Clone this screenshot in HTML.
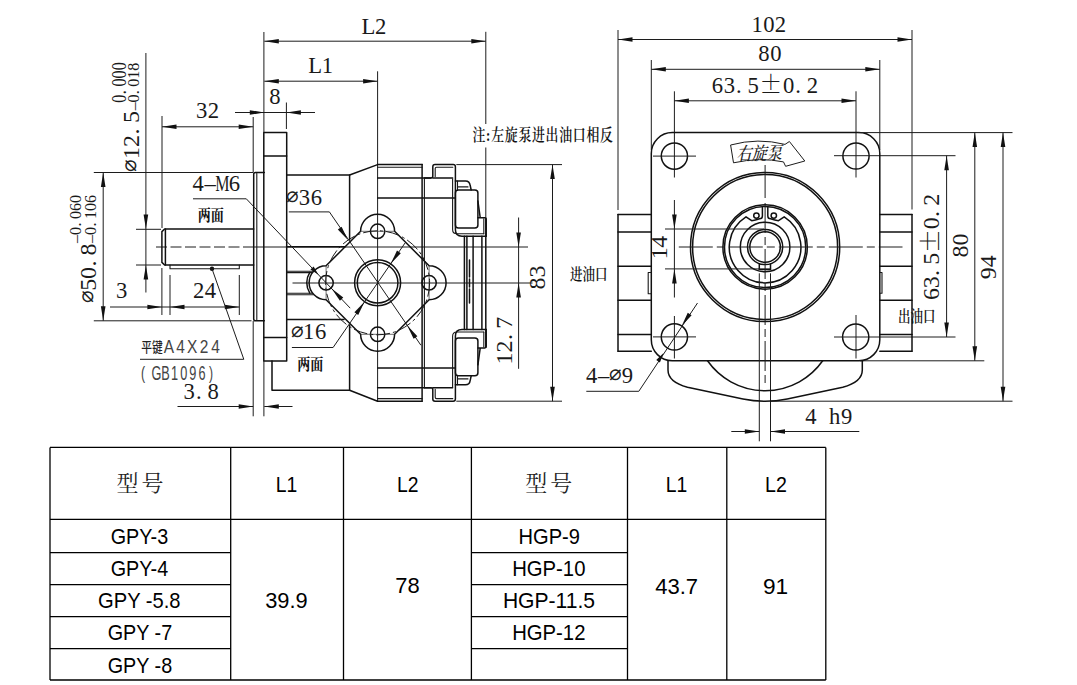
<!DOCTYPE html>
<html lang="zh-CN">
<head>
<meta charset="utf-8">
<title>GPY / HGP 齿轮泵外形尺寸</title>
<style>
html,body{margin:0;padding:0;background:#fff;}
body{width:1077px;height:685px;overflow:hidden;position:relative;}
svg{position:absolute;left:0;top:0;display:block;}
.o{fill:none;stroke:#111;stroke-width:1.5;stroke-linecap:round;stroke-linejoin:round;}
.o2{fill:none;stroke:#181818;stroke-width:1.1;stroke-linecap:round;stroke-linejoin:round;}
.t{fill:none;stroke:#1c1c1c;stroke-width:1;}
.t2{fill:none;stroke:#333;stroke-width:0.7;}
.a{fill:#111;stroke:none;}
.tb{stroke:#000;stroke-width:1.3;fill:none;}
text{fill:#1a1a1a;}
.d{font-family:"Liberation Serif","Noto Serif CJK SC",serif;}
.dd{font-family:"DejaVu Sans","Liberation Serif",sans-serif;fill:#222;font-weight:200;}
.s{font-family:"Liberation Sans","Noto Sans CJK SC",sans-serif;fill:#444;}
.c{font-family:"Liberation Serif","Noto Serif CJK SC",serif;font-weight:700;fill:#111;}
.c2{font-family:"Liberation Sans","Noto Sans CJK SC",sans-serif;font-weight:500;fill:#222;}
.c3{font-family:"Liberation Serif","Noto Serif CJK SC",serif;font-weight:600;fill:#111;}
.pm{font-family:"Noto Serif CJK SC",serif;}
.c4{font-family:"Liberation Serif","Noto Serif CJK SC",serif;font-weight:500;}
.tt{font-family:"Liberation Sans","Noto Sans CJK SC",sans-serif;font-size:21.6px;fill:#000;}
.th{font-family:"Liberation Serif","Noto Serif CJK SC",serif;font-size:22px;letter-spacing:3px;fill:#222;font-weight:400;}
</style>
</head>
<body>
<svg width="1077" height="685" viewBox="0 0 1077 685">
<g id="side">
<line class="t" x1="145.9" y1="53" x2="145.9" y2="292.5"/>
<polygon class="a" points="145.9,229 143.6,214.5 148.2,214.5"/>
<polygon class="a" points="145.9,265 148.2,279.5 143.6,279.5"/>
<line class="t" x1="136" y1="229.3" x2="161" y2="229.3"/>
<line class="t" x1="136" y1="265" x2="161" y2="265"/>
<line class="t" x1="162" y1="116" x2="162" y2="228"/>
<line class="t" x1="161.9" y1="268" x2="161.9" y2="315"/>
<line class="t" x1="170" y1="275" x2="170" y2="315"/>
<line class="t" x1="239.3" y1="275" x2="239.3" y2="315"/>
<line class="t" x1="253.2" y1="117" x2="253.2" y2="172"/>
<line class="t" x1="253.2" y1="321" x2="253.2" y2="416.3"/>
<line class="t" x1="263.9" y1="32" x2="263.9" y2="132.5"/>
<line class="t" x1="263.9" y1="361" x2="263.9" y2="416.3"/>
<line class="t" x1="286.4" y1="102.5" x2="286.4" y2="129"/>
<line class="t" x1="264.3" y1="41.2" x2="485.8" y2="41.2"/>
<polygon class="a" points="264.3,41.2 278.8,38.9 278.8,43.5"/>
<polygon class="a" points="485.8,41.2 471.3,43.5 471.3,38.9"/>
<line class="t" x1="264.3" y1="81.2" x2="377.6" y2="81.2"/>
<polygon class="a" points="264.3,81.2 278.8,78.9 278.8,83.5"/>
<polygon class="a" points="377.6,81.2 363.1,83.5 363.1,78.9"/>
<line class="t" x1="235" y1="112.5" x2="315" y2="112.5"/>
<polygon class="a" points="264.3,112.5 249.8,114.8 249.8,110.2"/>
<polygon class="a" points="286.4,112.5 300.9,110.2 300.9,114.8"/>
<line class="t" x1="162" y1="126.8" x2="253.2" y2="126.8"/>
<polygon class="a" points="162,126.8 176.5,124.5 176.5,129.1"/>
<polygon class="a" points="253.2,126.8 238.7,129.1 238.7,124.5"/>
<line class="t" x1="377.6" y1="71.3" x2="377.6" y2="401.2"/>
<line class="t" x1="485.8" y1="31.8" x2="485.8" y2="124"/>
<line class="t" x1="485.8" y1="147.5" x2="485.8" y2="218.5"/>
<line class="t" x1="552.5" y1="164.6" x2="552.5" y2="401.2"/>
<polygon class="a" points="552.5,164.6 554.8,179.1 550.2,179.1"/>
<polygon class="a" points="552.5,401.2 550.2,386.7 554.8,386.7"/>
<line class="t" x1="456.3" y1="164.6" x2="562" y2="164.6"/>
<line class="t" x1="456.3" y1="401.2" x2="562" y2="401.2"/>
<line class="t" x1="518.6" y1="217.5" x2="518.6" y2="368.8"/>
<polygon class="a" points="518.6,247 516.3,232.5 520.9,232.5"/>
<polygon class="a" points="518.6,283 520.9,297.5 516.3,297.5"/>
<line class="t" x1="156" y1="247" x2="254" y2="247" stroke-dasharray="11 3.5"/>
<line class="t" x1="254" y1="247" x2="528" y2="247"/>
<line class="t" x1="292.5" y1="283" x2="532.5" y2="283"/>
<line class="t" x1="103.2" y1="172.5" x2="103.2" y2="320.8"/>
<polygon class="a" points="103.2,172.5 105.5,187 100.9,187"/>
<polygon class="a" points="103.2,320.8 100.9,306.3 105.5,306.3"/>
<line class="t" x1="93.8" y1="172.5" x2="253.5" y2="172.5"/>
<line class="t" x1="93.8" y1="320.8" x2="251.5" y2="320.8"/>
<line class="t" x1="110" y1="307" x2="239.3" y2="307"/>
<polygon class="a" points="161.9,307 147.4,309.3 147.4,304.7"/>
<polygon class="a" points="170,307 184.5,304.7 184.5,309.3"/>
<polygon class="a" points="239.3,307 224.8,309.3 224.8,304.7"/>
<line class="t" x1="177.5" y1="406.5" x2="253.2" y2="406.5"/>
<polygon class="a" points="253.2,406.5 238.7,408.8 238.7,404.2"/>
<line class="t" x1="264.3" y1="406.5" x2="292.5" y2="406.5"/>
<polygon class="a" points="264.3,406.5 278.8,404.2 278.8,408.8"/>
<circle class="a" cx="212" cy="268.8" r="2.2"/>
<line class="t" x1="212" y1="268.8" x2="243.8" y2="359.3"/>
<line class="t" x1="140" y1="359.3" x2="243.8" y2="359.3"/>
</g>
<g id="sideobj">
<path class="o" d="M253.7 229 H164.6 L161.9 231.6 V262.4 L164.6 265 H253.7"/>
<line class="o" x1="165.4" y1="229" x2="165.4" y2="265"/>
<path class="o2" d="M170 265 V268.8 H239.3 V265"/>
<path class="o" d="M264.3 172.5 H255.5 Q253.7 172.5 253.7 174.3 V319 Q253.7 320.8 255.5 320.8 H264.3"/>
<line class="o2" x1="256.8" y1="173.5" x2="256.8" y2="319.8"/>
<path class="o" d="M263.8 132.5 H286.7 V360.9 H263.8 Z"/>
<line class="o" x1="263.8" y1="156" x2="286.7" y2="156"/>
<line class="o" x1="263.8" y1="337.5" x2="286.7" y2="337.5"/>
<path class="o" d="M287 175 H349.6 L377.6 164.6"/>
<path class="o" d="M272 360.9 V390.2 H349.6 L377.6 401.2"/>
<line class="o" x1="349.6" y1="175" x2="349.6" y2="240"/>
<line class="o" x1="349.6" y1="325" x2="349.6" y2="390.2"/>
<line class="o" x1="287" y1="246.8" x2="345" y2="246.8"/>
<line class="o" x1="287" y1="319.4" x2="344" y2="319.4"/>
<line class="o2" x1="287" y1="271.2" x2="313" y2="271.2"/>
<line class="o2" x1="287" y1="272.6" x2="312" y2="272.6"/>
<line class="o2" x1="287" y1="293.2" x2="312" y2="293.2"/>
<line class="o2" x1="287" y1="294.8" x2="313" y2="294.8"/>
</g>
<g id="rear">
<g>
<line class="o" x1="377.6" y1="164.6" x2="422.1" y2="164.6"/>
<line class="o2" x1="377.6" y1="167.2" x2="422.1" y2="167.2"/>
<line class="o" x1="377.6" y1="178" x2="431" y2="178"/>
<line class="o" x1="377.6" y1="197.9" x2="454.5" y2="197.9"/>
<path class="o" d="M424.4 178 H430.8 Q432.8 178 432.8 176 V166.8 Q432.8 164.6 435 164.6 H453.2 Q455.4 164.6 455.4 166.8 V229.5 Q455.4 236.2 462 236.2 H486.2"/>
<line class="o" x1="432.8" y1="178" x2="452.6" y2="178"/>
<path class="o2" d="M435.2 176.5 V168.5 Q435.2 167.2 436.5 167.2 H452.8"/>
<path class="o2" d="M452.6 178.8 V229.5 Q452.6 233.8 457 233.8 H483.8"/>
<path class="o" d="M455.4 181 H465.5 Q469.6 181 470.2 185.5 L471.2 190"/>
<path class="o2" d="M457.5 181 V189.5 M457.5 186.9 H468"/>
<rect class="o" x="455.4" y="190" width="22.5" height="37.9" rx="3" ry="3"/>
<path class="o" d="M477.9 201 L480.2 217.6 M477.9 217.8 H484.8 Q486.2 217.8 486.2 219.2 V236.2"/>
<path class="o2" d="M483.8 218.8 V233.8"/>
</g>
<g transform="matrix(1 0 0 -1 0 565.8)">
<line class="o" x1="377.6" y1="164.6" x2="422.1" y2="164.6"/>
<line class="o2" x1="377.6" y1="167.2" x2="422.1" y2="167.2"/>
<line class="o" x1="377.6" y1="178" x2="431" y2="178"/>
<line class="o" x1="377.6" y1="197.9" x2="454.5" y2="197.9"/>
<path class="o" d="M424.4 178 H430.8 Q432.8 178 432.8 176 V166.8 Q432.8 164.6 435 164.6 H453.2 Q455.4 164.6 455.4 166.8 V229.5 Q455.4 236.2 462 236.2 H486.2"/>
<line class="o" x1="432.8" y1="178" x2="452.6" y2="178"/>
<path class="o2" d="M435.2 176.5 V168.5 Q435.2 167.2 436.5 167.2 H452.8"/>
<path class="o2" d="M452.6 178.8 V229.5 Q452.6 233.8 457 233.8 H483.8"/>
<path class="o" d="M455.4 181 H465.5 Q469.6 181 470.2 185.5 L471.2 190"/>
<path class="o2" d="M457.5 181 V189.5 M457.5 186.9 H468"/>
<rect class="o" x="455.4" y="190" width="22.5" height="37.9" rx="3" ry="3"/>
<path class="o" d="M477.9 201 L480.2 217.6 M477.9 217.8 H484.8 Q486.2 217.8 486.2 219.2 V236.2"/>
<path class="o2" d="M483.8 218.8 V233.8"/>
</g>
<line class="o" x1="422.1" y1="164.6" x2="422.1" y2="401.2"/>
<line class="o2" x1="424.4" y1="178" x2="424.4" y2="387.8"/>
<line class="o" x1="464.4" y1="236.2" x2="464.4" y2="329.6" stroke-width="1.25"/>
<line class="o" x1="466.9" y1="236.2" x2="466.9" y2="329.6" stroke-width="1.25"/>
<line class="o" x1="473.1" y1="236.2" x2="473.1" y2="329.6" stroke-width="1.25"/>
<line class="o" x1="481.9" y1="236.2" x2="481.9" y2="329.6" stroke-width="1.25"/>
<line class="o" x1="485.8" y1="218.5" x2="485.8" y2="347.3"/>
<line class="o" x1="469.5" y1="260" x2="469.5" y2="303" stroke-width="1.8" stroke-dasharray="17 2 8 2 14 2"/>
</g>
<g id="port">
<path class="o" d="M360.6 231.3 A17.0 17.0 0 0 1 394.6 231.3 L429.1 265.8 A17.0 17.0 0 0 1 429.1 299.8 L394.6 334.3 A17.0 17.0 0 0 1 360.6 334.3 L326.1 299.8 A17.0 17.0 0 0 1 326.1 265.8 Z"/>
<circle class="o" cx="377.6" cy="231.3" r="7.2"/>
<line class="t2" x1="360.6" y1="231.3" x2="394.6" y2="231.3"/>
<circle class="o" cx="429.1" cy="282.8" r="7.2"/>
<line class="t2" x1="429.1" y1="265.8" x2="429.1" y2="299.8"/>
<circle class="o" cx="377.6" cy="334.3" r="7.2"/>
<line class="t2" x1="394.6" y1="334.3" x2="360.6" y2="334.3"/>
<circle class="o" cx="326.1" cy="282.8" r="7.2"/>
<line class="t2" x1="326.1" y1="299.8" x2="326.1" y2="265.8"/>
<path class="o" d="M309.8 272.4 A19.3 19.3 0 0 0 309.8 293.2"/>
<circle class="t" cx="377.6" cy="282.8" r="52" stroke-dasharray="14 3 3 3"/>
<circle class="o" cx="377.6" cy="282.8" r="23"/>
<circle class="o" cx="377.6" cy="282.8" r="20.3"/>
<line class="t" x1="288.8" y1="211.9" x2="329.4" y2="211.9"/>
<line class="t" x1="329.4" y1="211.9" x2="420.91" y2="345.25"/>
<polygon class="a" points="347.96,240.07 337.81,229.47 341.59,226.85"/>
<polygon class="a" points="407.24,325.53 417.39,336.13 413.61,338.75"/>
<line class="t" x1="291.9" y1="347.5" x2="333.1" y2="347.5"/>
<line class="t" x1="333.1" y1="347.5" x2="405.13" y2="242.87"/>
<polygon class="a" points="364.54,301.73 358.21,314.98 354.42,312.37"/>
<polygon class="a" points="390.66,263.87 396.99,250.62 400.78,253.23"/>
<line class="t" x1="193" y1="198.8" x2="246.3" y2="198.8"/>
<line class="t" x1="246.3" y1="198.8" x2="350.21" y2="308.17"/>
<polygon class="a" points="318.52,274.83 310.39,269.45 313.58,266.42"/>
<polygon class="a" points="331.61,288.6 343.26,297.53 339.93,300.7"/>
</g>
<g id="front">
<line class="t" x1="618" y1="30" x2="618" y2="210"/>
<line class="t" x1="912" y1="30" x2="912" y2="209.5"/>
<line class="t" x1="618" y1="39.5" x2="912" y2="39.5"/>
<polygon class="a" points="618,39.5 632.5,37.2 632.5,41.8"/>
<polygon class="a" points="912,39.5 897.5,41.8 897.5,37.2"/>
<line class="t" x1="651.3" y1="60" x2="651.3" y2="150"/>
<line class="t" x1="879.8" y1="60" x2="879.8" y2="150"/>
<line class="t" x1="651.3" y1="69.3" x2="879.8" y2="69.3"/>
<polygon class="a" points="651.3,69.3 665.8,67 665.8,71.6"/>
<polygon class="a" points="879.8,69.3 865.3,71.6 865.3,67"/>
<line class="t" x1="674.4" y1="91.3" x2="674.4" y2="177.5"/>
<line class="t" x1="856" y1="91.3" x2="856" y2="177.5"/>
<line class="t" x1="674.4" y1="100.8" x2="856" y2="100.8"/>
<polygon class="a" points="674.4,100.8 688.9,98.5 688.9,103.1"/>
<polygon class="a" points="856,100.8 841.5,103.1 841.5,98.5"/>
<line class="t" x1="674.4" y1="200" x2="674.4" y2="297.5"/>
<line class="t" x1="674.4" y1="316" x2="674.4" y2="358.5"/>
<polygon class="a" points="674.4,229 672.1,214.5 676.7,214.5"/>
<polygon class="a" points="674.4,268.9 676.7,283.4 672.1,283.4"/>
<line class="t" x1="856" y1="315" x2="856" y2="358.5"/>
<circle class="o" cx="674.4" cy="156.1" r="13.1"/>
<circle class="o" cx="856" cy="156" r="13.1"/>
<circle class="o" cx="674.4" cy="336.9" r="13.1"/>
<circle class="o" cx="855.7" cy="337" r="13.1"/>
<line class="t" x1="653" y1="156.1" x2="696" y2="156.1"/>
<line class="t" x1="834" y1="155.7" x2="955.5" y2="155.7"/>
<line class="t" x1="653" y1="336.9" x2="696" y2="336.9"/>
<line class="t" x1="834" y1="337" x2="955.5" y2="337"/>
<rect class="o" x="651.3" y="132.6" width="228.5" height="228.2" rx="21" ry="21"/>
<line class="t" x1="858" y1="132.6" x2="1012.5" y2="132.6"/>
<line class="t" x1="860" y1="360.8" x2="984.3" y2="360.8"/>
<line class="t" x1="770.5" y1="401.2" x2="1012.5" y2="401.2"/>
<line class="t" x1="946.6" y1="155.7" x2="946.6" y2="337"/>
<polygon class="a" points="946.6,155.7 948.9,170.2 944.3,170.2"/>
<polygon class="a" points="946.6,337 944.3,322.5 948.9,322.5"/>
<line class="t" x1="974.8" y1="132.6" x2="974.8" y2="360.8"/>
<polygon class="a" points="974.8,132.6 977.1,147.1 972.5,147.1"/>
<polygon class="a" points="974.8,360.8 972.5,346.3 977.1,346.3"/>
<line class="t" x1="1003" y1="132.6" x2="1003" y2="401.2"/>
<polygon class="a" points="1003,132.6 1005.3,147.1 1000.7,147.1"/>
<polygon class="a" points="1003,401.2 1000.7,386.7 1005.3,386.7"/>
<path class="o" d="M618 214.5 H651.3 M618 232 H651.3 M618 266.3 H651.3 M618 300.3 H651.3 M618 334.5 H651.3 M618 351.3 H651.3"/>
<path class="o" d="M879.8 214.5 H912 M879.8 232 H912 M879.8 266.3 H912 M879.8 300.3 H912 M879.8 334.5 H912 M879.8 351.3 H912"/>
<line class="o" x1="618" y1="214.5" x2="618" y2="351.3"/>
<line class="o" x1="912" y1="214.5" x2="912" y2="351.3"/>
<path class="o2" d="M651.3 272.5 H648.2 V293.7 H651.3"/>
<path class="o2" d="M879.8 272.5 H882 V293.2 H879.8"/>
<circle class="o" cx="765.1" cy="247" r="74.6" stroke-width="1.6"/>
<circle class="o" cx="765.1" cy="247" r="72.5" stroke-width="1.1"/>
<circle class="o" cx="765.1" cy="247" r="42.2" stroke-width="2.2"/>
<circle class="o" cx="765.1" cy="247" r="40.6" stroke-width="1.3"/>
<circle class="o" cx="765.1" cy="247" r="24.8"/>
<circle class="o" cx="765.1" cy="247" r="17.6"/>
<circle class="o" cx="765.1" cy="247" r="15.3"/>
<path class="o" d="M762.4 207.5 V216 Q762.4 218.8 759.6 218.8 Q755.1 220.5 751.7 220.7 L746 216.8 A35.8 35.8 0 1 0 784.2 216.8 L778.5 220.7 Q775.1 220.5 770.6 218.8 Q767.8 218.8 767.8 216 V207.5"/>
<circle class="o" cx="756.4" cy="215.6" r="2.7"/>
<circle class="o" cx="773.8" cy="215.6" r="2.7"/>
<path class="o" d="M759.3 264 V269.4 H770.5 V264"/>
<line class="o" x1="759.3" y1="269.3" x2="770.5" y2="269.3" stroke-width="2"/>
<line class="t" x1="665" y1="229" x2="764" y2="229"/>
<line class="t" x1="665" y1="268.9" x2="760" y2="268.9"/>
<line class="t" x1="678.8" y1="247" x2="902.5" y2="247" stroke-dasharray="34 4 8 4"/>
<line class="t" x1="765.1" y1="165" x2="765.1" y2="198"/>
<line class="t" x1="765.1" y1="203" x2="765.1" y2="385" stroke-dasharray="30 4 8 4"/>
<line class="t" x1="759.3" y1="273.3" x2="759.3" y2="441.3"/>
<line class="t" x1="770.5" y1="273.3" x2="770.5" y2="441.3"/>
<line class="t" x1="731.3" y1="431.5" x2="759.3" y2="431.5"/>
<polygon class="a" points="759.3,431.5 744.8,433.8 744.8,429.2"/>
<line class="t" x1="770.5" y1="431.5" x2="859.3" y2="431.5"/>
<polygon class="a" points="770.5,431.5 785,429.2 785,433.8"/>
<path class="o" d="M707.5 360.8 A70.4 70.4 0 0 0 822.7 360.8"/>
<path class="o" d="M668 360.8 V370 Q668 382 687.5 387.3 L743 399 Q765.1 403.5 787.2 399 L842.7 387.3 Q862.3 382 862.3 370 V360.8"/>
<line class="t" x1="586.3" y1="391.3" x2="638.8" y2="391.3"/>
<line class="t" x1="638.8" y1="391.3" x2="697.5" y2="303"/>
<polygon class="a" points="663.6,352.9 659.9,362.45 656.23,360.01"/>
<polygon class="a" points="681.65,325.99 687.76,312.64 691.6,315.19"/>
</g>
<g id="txt">
<text class="d" transform="translate(362.3,33.8) scale(0.96,1.0)" font-size="23.6" text-anchor="middle" x="6.35 19.06" y="0">L2</text>
<text class="d" transform="translate(309.2,73.3) scale(0.96,1.0)" font-size="23.6" text-anchor="middle" x="6.35 19.06" y="0">L1</text>
<text class="d" transform="translate(269,104) scale(0.96,1.0)" font-size="23.6" text-anchor="middle" x="6.25" y="0">8</text>
<text class="d" transform="translate(195.8,118) scale(0.96,1.0)" font-size="23.6" text-anchor="middle" x="6.15 18.44" y="0">32</text>
<text class="d" transform="translate(192,191.3) scale(0.96,1.0)" font-size="23.6" text-anchor="middle" x="6.3 18.91" y="0">4–</text>
<text class="d" transform="translate(216.2,191.3) scale(0.68,1.0)" font-size="23.6" text-anchor="middle" x="8.9" y="0">M</text>
<text class="d" transform="translate(228.3,191.3) scale(0.96,1.0)" font-size="23.6" text-anchor="middle" x="6.3" y="0">6</text>
<text class="dd" transform="translate(292.7,202.3)" font-size="21" text-anchor="middle" x="0" y="0">⌀</text>
<text class="d" transform="translate(298.3,204.7) scale(0.96,1.0)" font-size="23.6" text-anchor="middle" x="6.3 18.91" y="0">36</text>
<text class="dd" transform="translate(297,337)" font-size="21" text-anchor="middle" x="0" y="0">⌀</text>
<text class="d" transform="translate(302.6,339.4) scale(0.96,1.0)" font-size="23.6" text-anchor="middle" x="6.3 18.91" y="0">16</text>
<text class="d" transform="translate(115.75,297.5) scale(0.96,1.0)" font-size="23.6" text-anchor="middle" x="6.25" y="0">3</text>
<text class="d" transform="translate(192.8,297.5) scale(0.96,1.0)" font-size="23.6" text-anchor="middle" x="6.15 18.44" y="0">24</text>
<text class="d" transform="translate(183,398.8) scale(0.96,1.0)" font-size="23.6" text-anchor="middle" x="6.3 16.39 31.51" y="0">3.8</text>
<text class="d" transform="translate(751.5,32) scale(0.96,1.0)" font-size="23.6" text-anchor="middle" x="6.04 18.12 30.21" y="0">102</text>
<text class="d" transform="translate(758,61.3) scale(0.96,1.0)" font-size="23.6" text-anchor="middle" x="6.25 18.75" y="0">80</text>
<text class="d" transform="translate(711.6,93) scale(0.96,1.0)" font-size="23.6" text-anchor="middle" x="6.17 18.52 28.39 43.2 61.72 80.23 90.11 104.92" y="0">63.5<tspan class="pm">±</tspan>0.2</text>
<text class="d" transform="translate(805,423.8) scale(0.96,1.0)" font-size="23.6" text-anchor="middle" x="6.2 18.59 30.99 43.39" y="0">4 h9</text>
<text class="d" transform="translate(585.8,382.5) scale(0.96,1.0)" font-size="23.6" text-anchor="middle" x="6.2 18.59" y="0">4–</text>
<text class="dd" transform="translate(615.5,380.3)" font-size="21" text-anchor="middle" x="0" y="0">⌀</text>
<text class="d" transform="translate(621.5,382.5) scale(0.96,1.0)" font-size="23.6" text-anchor="middle" x="6.2" y="0">9</text>
<text class="dd" transform="translate(135.8,165) rotate(-90)" font-size="21" text-anchor="middle" x="0" y="0">⌀</text>
<text class="d" transform="translate(139,159) rotate(-90)" font-size="24" text-anchor="middle" x="6 18 27.6 42" y="0">12.5</text>
<text class="d" transform="translate(139,110.3) rotate(-90)" font-size="16" text-anchor="middle" x="3.95 11.85 18.17 27.65 35.55 43.45" y="0">–0.018</text>
<text class="d" transform="translate(125.6,102.8) rotate(-90) scale(1.0,1.27)" font-size="16" text-anchor="middle" x="4.05 10.53 20.25 28.35 36.45" y="0">0.000</text>
<text class="dd" transform="translate(93,296.5) rotate(-90)" font-size="21" text-anchor="middle" x="0" y="0">⌀</text>
<text class="d" transform="translate(96.2,290.7) rotate(-90)" font-size="24" text-anchor="middle" x="5.9 17.7 27.14 41.3" y="0">50.8</text>
<text class="d" transform="translate(96.2,243) rotate(-90)" font-size="16" text-anchor="middle" x="4 12 18.4 28 36 44" y="0">–0.106</text>
<text class="d" transform="translate(80.6,243) rotate(-90) scale(1.0,1.1)" font-size="16" text-anchor="middle" x="4 12 18.4 28 36 44" y="0">–0.060</text>
<text class="d" transform="translate(511.9,364.4) rotate(-90)" font-size="24" text-anchor="middle" x="5.95 17.85 27.37 41.65" y="0">12.7</text>
<text class="d" transform="translate(545.2,289.7) rotate(-90)" font-size="24" text-anchor="middle" x="6.1 18.3" y="0">83</text>
<text class="d" transform="translate(667,259) rotate(-90)" font-size="24" text-anchor="middle" x="5.75 17.25" y="0">14</text>
<text class="d" transform="translate(939.2,300) rotate(-90)" font-size="24" text-anchor="middle" x="5.9 17.7 27.14 41.3 59 76.7 86.14 100.3" y="0">63.5<tspan class="pm">±</tspan>0.2</text>
<text class="d" transform="translate(967.5,257.6) rotate(-90)" font-size="24" text-anchor="middle" x="6 18" y="0">80</text>
<text class="d" transform="translate(995.5,279.3) rotate(-90)" font-size="24" text-anchor="middle" x="6 18" y="0">94</text>
<text class="c" transform="translate(210.8,220.8) scale(0.95,1.12)" font-size="13.8" text-anchor="middle">两面</text>
<text class="c" transform="translate(310.3,369.8) scale(0.95,1.12)" font-size="13.8" text-anchor="middle">两面</text>
<text class="c2" transform="translate(141.2,351.8) scale(0.78,1)" font-size="13.8">平键</text>
<text class="s" transform="translate(163,353) scale(0.86,1.0)" font-size="18" text-anchor="middle" x="6.8 20.41 34.01 47.62 61.22" y="0">A4X24</text>
<text class="s" transform="translate(138.6,378.5) scale(0.7,1.0)" font-size="17.5" text-anchor="middle" x="6.5" y="0">(</text>
<text class="s" transform="translate(151.9,380) scale(0.62,1.0)" font-size="20.5" text-anchor="middle" x="7.34 22.02 36.69 51.37 66.05 80.73" y="0">GB1096</text>
<text class="s" transform="translate(206.6,378.5) scale(0.7,1.0)" font-size="17.5" text-anchor="middle" x="6.5" y="0">)</text>
<text class="c3" transform="translate(472.5,141.3) scale(0.76,1)" font-size="17" textLength="184.9" lengthAdjust="spacing">注:左旋泵进出油口相反</text>
<text class="c3" transform="translate(570,280) scale(0.78,1)" font-size="16">进油口</text>
<text class="c3" transform="translate(898,322.3) scale(0.78,1)" font-size="16">出油口</text>
<path class="t" d="M730.6 145 Q758 137.5 785 144.4 L789.4 141.5 L804.8 161 L785.6 166.3 L783.5 161.9 Q760 157 733.5 162.8 Z"/>
<text class="c4" transform="translate(736.5,160.3) rotate(-1.5) skewX(-14) scale(0.9,1.08)" font-size="16.8">右旋泵</text>
</g>
<g id="table">
<line class="tb" x1="50" y1="447.4" x2="50" y2="680"/>
<line class="tb" x1="230.7" y1="447.4" x2="230.7" y2="680"/>
<line class="tb" x1="343.5" y1="447.4" x2="343.5" y2="680"/>
<line class="tb" x1="471.4" y1="447.4" x2="471.4" y2="680"/>
<line class="tb" x1="627.5" y1="447.4" x2="627.5" y2="680"/>
<line class="tb" x1="726.8" y1="447.4" x2="726.8" y2="680"/>
<line class="tb" x1="825.8" y1="447.4" x2="825.8" y2="680"/>
<line class="tb" x1="50" y1="447.4" x2="825.8" y2="447.4"/>
<line class="tb" x1="50" y1="519.3" x2="825.8" y2="519.3"/>
<line class="tb" x1="50" y1="680" x2="825.8" y2="680"/>
<line class="tb" x1="50" y1="552.7" x2="230.7" y2="552.7"/>
<line class="tb" x1="471.4" y1="552.7" x2="627.5" y2="552.7"/>
<line class="tb" x1="50" y1="584.7" x2="230.7" y2="584.7"/>
<line class="tb" x1="471.4" y1="584.7" x2="627.5" y2="584.7"/>
<line class="tb" x1="50" y1="616.6" x2="230.7" y2="616.6"/>
<line class="tb" x1="471.4" y1="616.6" x2="627.5" y2="616.6"/>
<line class="tb" x1="50" y1="648.6" x2="230.7" y2="648.6"/>
<line class="tb" x1="471.4" y1="648.6" x2="627.5" y2="648.6"/>
<text class="th" x="141.5" y="491.3" text-anchor="middle">型号</text>
<text class="th" x="550.2" y="491.3" text-anchor="middle">型号</text>
<text class="tt" x="286.5" y="491.9" text-anchor="middle" textLength="21.5" lengthAdjust="spacingAndGlyphs">L1</text>
<text class="tt" x="407.8" y="491.9" text-anchor="middle" textLength="21.5" lengthAdjust="spacingAndGlyphs">L2</text>
<text class="tt" x="676.6" y="491.9" text-anchor="middle" textLength="21.5" lengthAdjust="spacingAndGlyphs">L1</text>
<text class="tt" x="775.9" y="491.9" text-anchor="middle" textLength="21.8" lengthAdjust="spacingAndGlyphs">L2</text>
<text class="tt" x="139.4" y="544.3" text-anchor="middle" textLength="57.5" lengthAdjust="spacingAndGlyphs">GPY-3</text>
<text class="tt" x="139.4" y="576" text-anchor="middle" textLength="57.5" lengthAdjust="spacingAndGlyphs">GPY-4</text>
<text class="tt" x="139.3" y="608.2" text-anchor="middle" textLength="82.5" lengthAdjust="spacingAndGlyphs">GPY -5.8</text>
<text class="tt" x="139.9" y="640.3" text-anchor="middle" textLength="64.5" lengthAdjust="spacingAndGlyphs">GPY -7</text>
<text class="tt" x="139.9" y="672.6" text-anchor="middle" textLength="64.5" lengthAdjust="spacingAndGlyphs">GPY -8</text>
<text class="tt" x="286.4" y="608.2" text-anchor="middle" textLength="42.5" lengthAdjust="spacingAndGlyphs">39.9</text>
<text class="tt" x="407.4" y="592.9" text-anchor="middle" textLength="24.4" lengthAdjust="spacingAndGlyphs">78</text>
<text class="tt" x="549.2" y="544.3" text-anchor="middle" textLength="61.4" lengthAdjust="spacingAndGlyphs">HGP-9</text>
<text class="tt" x="548.8" y="576" text-anchor="middle" textLength="73.3" lengthAdjust="spacingAndGlyphs">HGP-10</text>
<text class="tt" x="549" y="608" text-anchor="middle" textLength="92.2" lengthAdjust="spacingAndGlyphs">HGP-11.5</text>
<text class="tt" x="548.8" y="640.3" text-anchor="middle" textLength="73.3" lengthAdjust="spacingAndGlyphs">HGP-12</text>
<text class="tt" x="676.6" y="593.7" text-anchor="middle" textLength="42.9" lengthAdjust="spacingAndGlyphs">43.7</text>
<text class="tt" x="775.5" y="593.7" text-anchor="middle" textLength="25.2" lengthAdjust="spacingAndGlyphs">91</text>
</g>
</svg>
</body>
</html>
